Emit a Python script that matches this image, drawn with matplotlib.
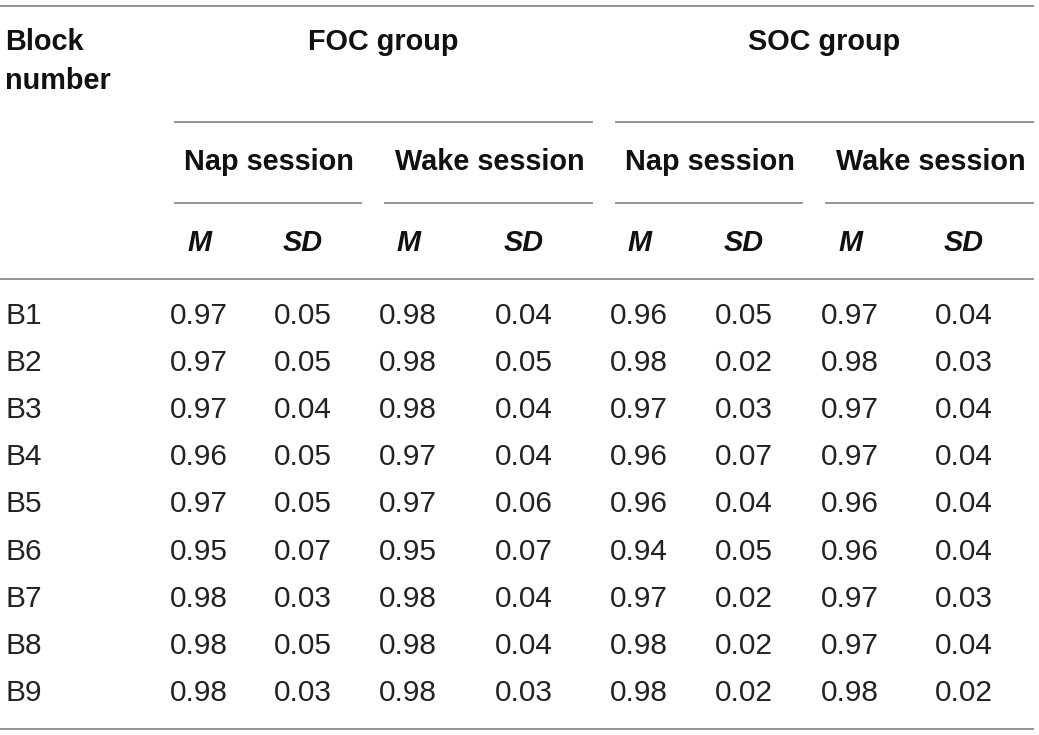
import matplotlib.pyplot as plt

blocks = ["B1", "B2", "B3", "B4", "B5", "B6", "B7", "B8", "B9"]
foc_nap_m = [0.97, 0.97, 0.97, 0.96, 0.97, 0.95, 0.98, 0.98, 0.98]
foc_nap_sd = [0.05, 0.05, 0.04, 0.05, 0.05, 0.07, 0.03, 0.05, 0.03]
foc_wake_m = [0.98, 0.98, 0.98, 0.97, 0.97, 0.95, 0.98, 0.98, 0.98]
foc_wake_sd = [0.04, 0.05, 0.04, 0.04, 0.06, 0.07, 0.04, 0.04, 0.03]
soc_nap_m = [0.96, 0.98, 0.97, 0.96, 0.96, 0.94, 0.97, 0.98, 0.98]
soc_nap_sd = [0.05, 0.02, 0.03, 0.07, 0.04, 0.05, 0.02, 0.02, 0.02]
soc_wake_m = [0.97, 0.98, 0.97, 0.97, 0.96, 0.96, 0.97, 0.97, 0.98]
soc_wake_sd = [0.04, 0.03, 0.04, 0.04, 0.04, 0.04, 0.03, 0.04, 0.02]

groups = ["FOC group", "SOC group"]
sessions = ["Nap session", "Wake session"]
stats = ["M", "SD"]

columns = [foc_nap_m, foc_nap_sd, foc_wake_m, foc_wake_sd,
           soc_nap_m, soc_nap_sd, soc_wake_m, soc_wake_sd]

plt.rcParams["font.family"] = ["Liberation Sans", "DejaVu Sans"]

fig = plt.figure(figsize=(10.39, 7.35), dpi=100)
ax = fig.add_axes([0, 0, 1, 1])
ax.set_xlim(0, 1039)
ax.set_ylim(735, 0)
ax.axis("off")

line_kw = dict(color="#8a8a8a", lw=1.3)
fs_head = 20.8
fs_body = 21.5
txt_color = "#222222"

# column centres (pixels)
col_x = [199, 303, 408, 524, 639, 744, 850, 964]
row_y0 = 316
row_step = 47.1

# rules
ax.plot([0, 1033], [6, 6], **line_kw)
ax.plot([0, 1033], [279, 279], **line_kw)
ax.plot([0, 1033], [729, 729], **line_kw)
group_spans = [(175, 592), (616, 1033)]
session_spans = [(175, 361), (385, 592), (616, 802), (826, 1033)]
for x0, x1 in group_spans:
    ax.plot([x0, x1], [122, 122], **line_kw)
for x0, x1 in session_spans:
    ax.plot([x0, x1], [203, 203], **line_kw)

# header
ax.text(5, 42, "Block", fontsize=fs_head, fontweight="bold", va="center", ha="left", color="#111")
ax.text(5, 81, "number", fontsize=fs_head, fontweight="bold", va="center", ha="left", color="#111")
for i, g in enumerate(groups):
    cx = (group_spans[i][0] + group_spans[i][1]) / 2
    ax.text(cx, 42, g, fontsize=fs_head, fontweight="bold", ha="center", va="center", color="#111")
for i, (x0, x1) in enumerate(session_spans):
    ax.text((x0 + x1) / 2 + 1, 162, sessions[i % 2], fontsize=fs_head, fontweight="bold",
            ha="center", va="center", color="#111")
for i, cx in enumerate(col_x):
    ax.text(cx, 243, stats[i % 2], fontsize=fs_head, fontweight="bold", style="italic",
            ha="center", va="center", color="#111")

# body
for r, b in enumerate(blocks):
    y = row_y0 + r * row_step
    ax.text(5, y, b, fontsize=fs_body, ha="left", va="center", color=txt_color)
    for c, vals in enumerate(columns):
        ax.text(col_x[c], y, f"{vals[r]:.2f}", fontsize=fs_body, ha="center", va="center",
                color=txt_color)

fig.savefig("out.png", dpi=100)
plt.close(fig)
